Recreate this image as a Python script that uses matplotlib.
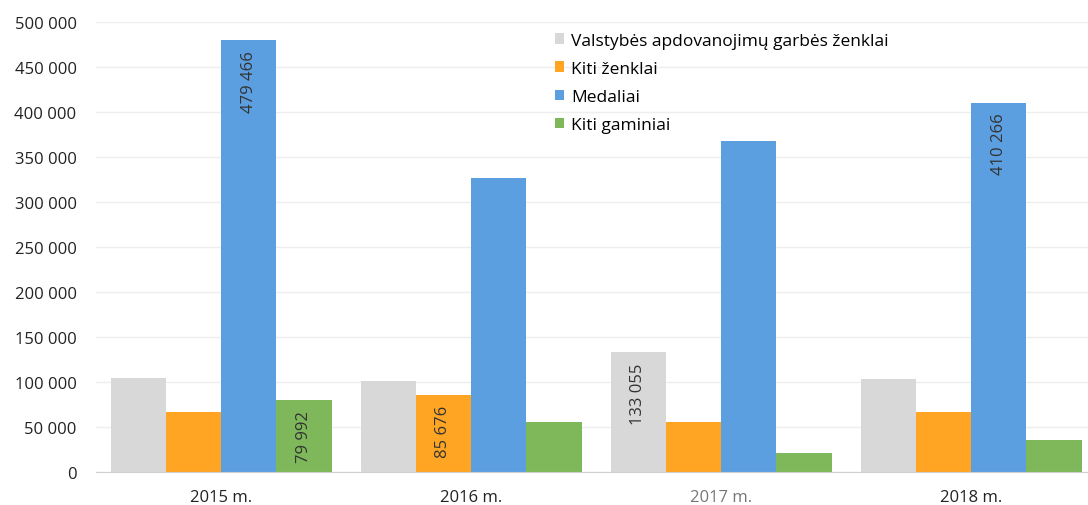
import numpy as np
import matplotlib.pyplot as plt
from matplotlib.ticker import FuncFormatter

years = ["2015 m.", "2016 m.", "2017 m.", "2018 m."]
series_names = ["Valstybės apdovanojimų garbės ženklai", "Kiti ženklai", "Medaliai", "Kiti gaminiai"]
garbes = [104400, 101100, 133055, 103300]
kiti_zenklai = [66700, 85676, 55600, 66700]
medaliai = [479466, 326700, 367800, 410266]
kiti_gaminiai = [79992, 55600, 21100, 35600]
# which bars carry a value label (series index, year index)
labelled = [(2, 0), (3, 0), (1, 1), (0, 2), (2, 3)]

values = [garbes, kiti_zenklai, medaliai, kiti_gaminiai]
colors = ["#D8D8D8", "#FFA523", "#5C9FE0", "#7EB85A"]

plt.rcParams['font.family'] = ['Open Sans', 'DejaVu Sans']

fig = plt.figure(figsize=(10.88, 5.06), dpi=100)
ax = fig.add_axes([96 / 1088, 33 / 506, 1 - 96 / 1088, 450 / 506])

x = np.arange(len(years))
w = 0.221
for i, (name, vals, c) in enumerate(zip(series_names, values, colors)):
    ax.bar(x + (i - 1.5) * w, vals, w, color=c, label=name, zorder=2)

for si, yi in labelled:
    v = values[si][yi]
    ax.text(x[yi] + (si - 1.5) * w, v - 11000, f"{v:,}".replace(",", " "),
            rotation=90, ha="center", va="top", fontsize=12, color="#333333", zorder=3)

ax.set_xlim(-0.5, -0.5 + (1088 - 96) / 250)
ax.set_ylim(0, 500000)
ax.set_yticks(np.arange(0, 500001, 50000))
ax.yaxis.set_major_formatter(FuncFormatter(lambda v, p: f"{int(v):,}".replace(",", " ")))
ax.grid(axis="y", color="#EEEEEE", lw=1, zorder=0)
for s in ["top", "right", "left"]:
    ax.spines[s].set_visible(False)
ax.spines["bottom"].set_color("#D0D0D0")
ax.tick_params(axis="both", length=0, labelsize=12, colors="#222222")
ax.tick_params(axis="y", pad=14)
ax.tick_params(axis="x", pad=12)
ax.set_xticks(x)
ax.set_xticklabels(years)
ax.get_xticklabels()[2].set_color("#777777")

ax.legend(loc="upper left", bbox_to_anchor=(539 / 1088, 1 - 18 / 506), bbox_transform=fig.transFigure,
          frameon=False, fontsize=12.5, handlelength=0.55, handleheight=0.55, handletextpad=0.4,
          labelspacing=0.7)

fig.savefig("out.png", dpi=100)
